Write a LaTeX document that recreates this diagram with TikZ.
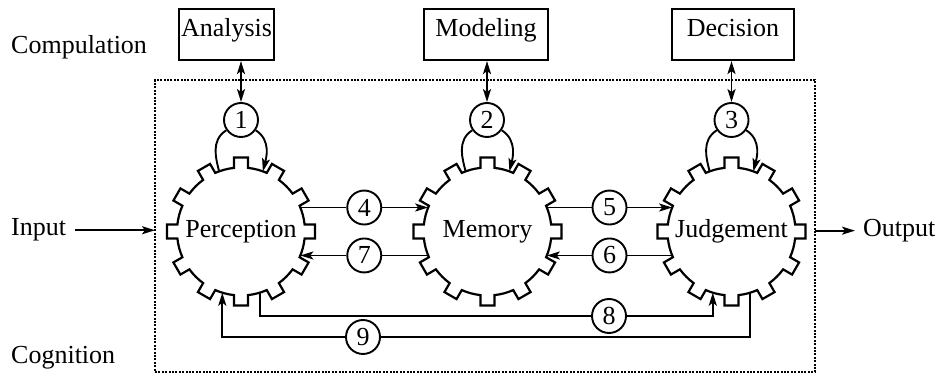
\documentclass[tikz,border=0pt]{standalone}
\usepackage{fontspec}
\setmainfont{Liberation Serif}
\usetikzlibrary{arrows.meta}

\tikzset{
  lbl/.style={font=\fontsize{26}{30}\selectfont, inner sep=0pt},
  wire/.style={line width=1.9pt},
  tipshape/.style={},
  arr/.style={wire, -{Stealth[length=13pt,width=8pt,inset=3pt]}},
  dblarr/.style={wire, {Stealth[length=13pt,width=8pt,inset=3pt]}-{Stealth[length=13pt,width=8pt,inset=3pt]}},
  numc/.style={lbl, circle, draw, line width=1.9pt, minimum size=34pt},
  topbox/.style={lbl, draw, line width=2.1pt, minimum height=51pt, text height=0.66em, text depth=0.22em},
  gearc/.style={lbl, circle, minimum size=128pt, outer sep=0pt},
  gearline/.style={line width=2.2pt, line join=miter},
  framebox/.style={draw, line width=2.6pt, dash pattern=on 2pt off 1.4pt,
    minimum width=660pt, minimum height=292pt, outer sep=0pt, inner sep=0pt}
}

\begin{document}
\begin{tikzpicture}[x=1pt, y=1pt]
\useasboundingbox (0,0) rectangle (940,374);

% cognition frame
\node[framebox] (fr) at (485,148) {};

% side labels
\node[lbl, anchor=base west] (comp) at (11,320.5) {Compulation};
\node[lbl, anchor=base west] (cogn) at (11,10.5) {Cognition};
\node[lbl, anchor=base west] (inp) at (11,138) {Input};
\node[lbl, anchor=base west] (outp) at (863,137.5) {Output};

% computation boxes
\node[topbox, minimum width=95pt] (an) at (226.5,339.5) {Analysis};
\node[topbox, minimum width=124pt] (mo) at (486,339.5) {Modeling};
\node[topbox, minimum width=122pt] (de) at (733,339.5) {Decision};

% gears
\node[gearc] (perc) at (241,142.5) {Perception};
\node[gearc] (mem) at (487.5,142.5) {Memory};
\node[gearc] (judg) at (731.5,142.5) {Judgement};

\foreach \g in {perc,mem,judg}{
  \draw[gearline, shift={(\g.center)}] ({-6.28}:64)
    \foreach \t in {0,30,...,330}{
      -- ({74*cos(\t)+7*sin(\t)},{74*sin(\t)-7*cos(\t)})
      -- ({74*cos(\t)-7*sin(\t)},{74*sin(\t)+7*cos(\t)})
      -- ({\t+6.28}:64)
      arc[start angle=\t+6.28, end angle=\t+23.72, radius=64]
    } -- cycle;
}

% self loops with computation links
\node[numc] (n1) at (241,254) {1};
\node[numc] (n2) at (487,254) {2};
\node[numc] (n3) at (731.5,254) {3};
\draw[dblarr] (n1.north) -- (n1.north |- an.south);
\draw[dblarr] (n2.north) -- (n2.north |- mo.south);
\draw[dblarr] (n3.north) -- (n3.north |- de.south);
\foreach \n/\g in {n1/perc,n2/mem,n3/judg}{
  \draw[wire] (\n.215) .. controls +(-16,-10) and +(-3,12) .. (\g.110);
  \draw[arr] (\n.325) .. controls +(16,-10) and +(3,12) .. (\g.70);
}

% links between neighbouring gears
\path (perc.22) -- node[numc] (n4) {4} (mem.158);
\path (mem.22) -- node[numc] (n5) {5} (judg.158);
\path (judg.202) -- node[numc] (n6) {6} (mem.338);
\path (mem.202) -- node[numc] (n7) {7} (perc.338);
\draw[wire] (perc.22) -- (n4);  \draw[arr] (n4) -- (mem.158);
\draw[wire] (mem.22) -- (n5);   \draw[arr] (n5) -- (judg.158);
\draw[wire] (judg.202) -- (n6); \draw[arr] (n6) -- (mem.338);
\draw[wire] (mem.202) -- (n7);  \draw[arr] (n7) -- (perc.338);

% long links below
\node[numc] (n8) at (609,58) {8};
\node[numc] (n9) at (363,37) {9};
\draw[wire] (perc.287) |- (n8);
\draw[arr] (n8) -| (judg.253);
\draw[wire] (judg.287) |- (n9);
\draw[arr] (n9) -| (perc.253);

% input and output
\draw[arr] ([xshift=9pt]inp.east) -- (inp.east -| fr.west);
\draw[arr] (outp.west -| fr.east) -- ([xshift=-8pt]outp.west);
\end{tikzpicture}
\end{document}
